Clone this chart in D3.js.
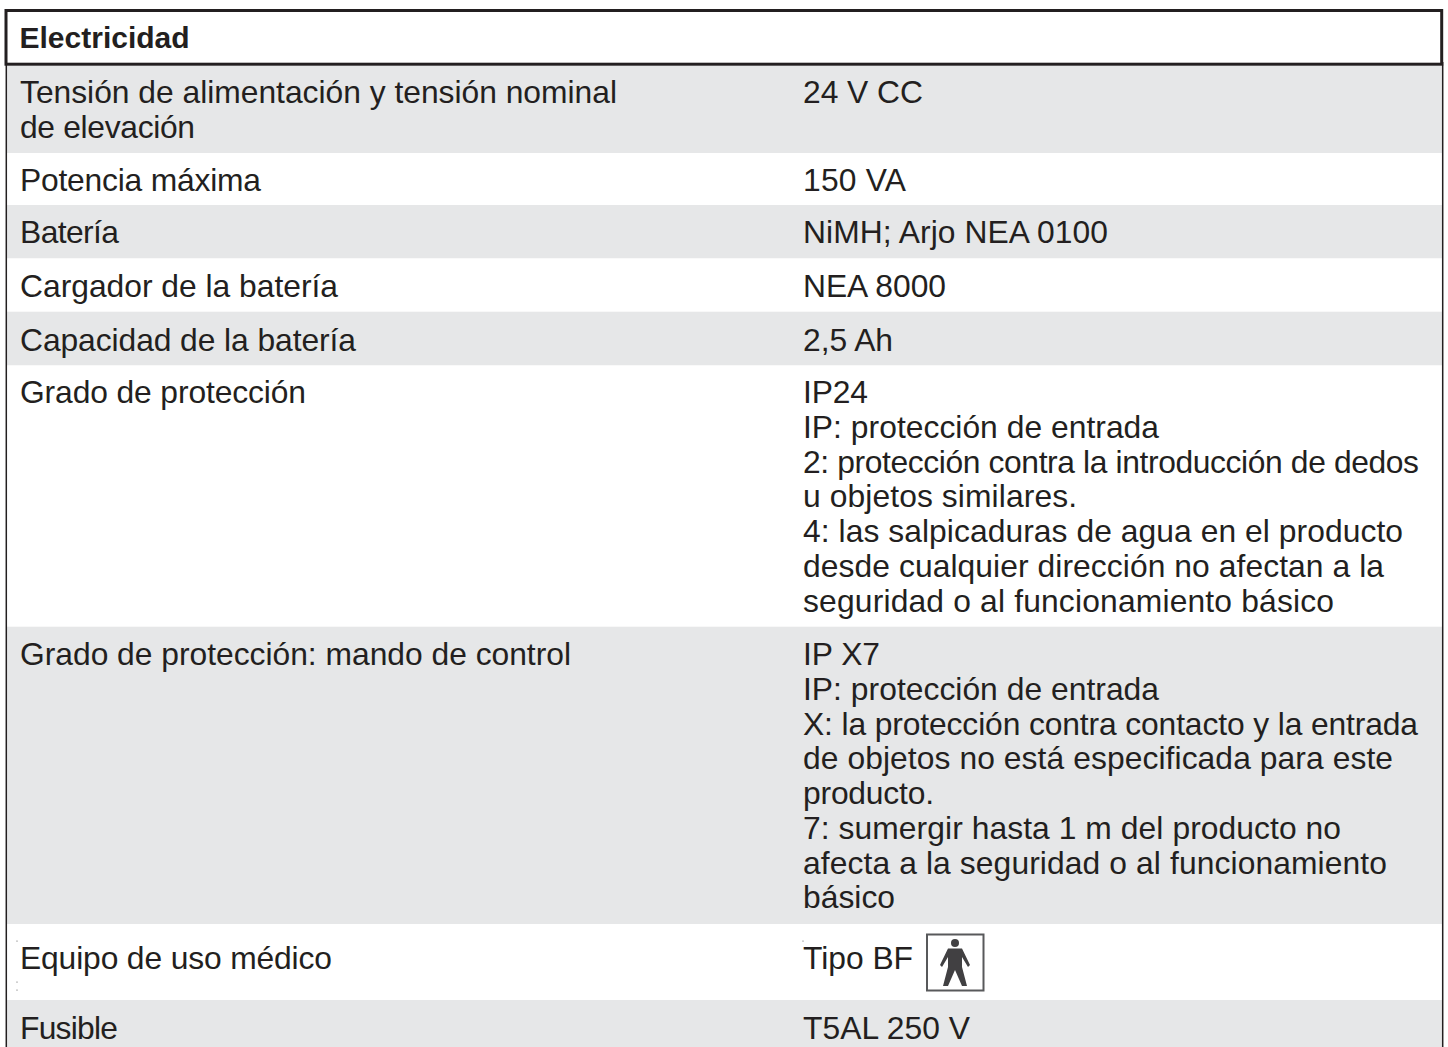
<!DOCTYPE html>
<html lang="es">
<head>
<meta charset="UTF-8">
<title>Electricidad</title>
<script src="https://cdn.jsdelivr.net/npm/d3@7"></script>
<style>
    html, body { margin: 0; padding: 0; background: #fff; overflow: hidden; }
    text { font-family: "Liberation Sans", Arial, sans-serif; fill: #231f20; }
</style>
</head>
<body>
<script>
    const title = "Electricidad";
    // one entry per table row, each cell is a list of text lines
    const labels = [
        ["Tensión de alimentación y tensión nominal", "de elevación"],
        ["Potencia máxima"],
        ["Batería"],
        ["Cargador de la batería"],
        ["Capacidad de la batería"],
        ["Grado de protección"],
        ["Grado de protección: mando de control"],
        ["Equipo de uso médico"],
        ["Fusible"]
    ];
    const values = [
        ["24 V CC"],
        ["150 VA"],
        ["NiMH; Arjo NEA 0100"],
        ["NEA 8000"],
        ["2,5 Ah"],
        ["IP24", "IP: protección de entrada", "2: protección contra la introducción de dedos", "u objetos similares.", "4: las salpicaduras de agua en el producto", "desde cualquier dirección no afectan a la", "seguridad o al funcionamiento básico"],
        ["IP X7", "IP: protección de entrada", "X: la protección contra contacto y la entrada", "de objetos no está especificada para este", "producto.", "7: sumergir hasta 1 m del producto no", "afecta a la seguridad o al funcionamiento", "básico"],
        ["Tipo BF"],
        ["T5AL 250 V"]
    ];

    // layout
    const rowEdges = [65.5, 153, 205, 258.5, 311.7, 365.5, 626.7, 924, 1000, 1047];
    const baselines = [103, 191, 243, 297, 351, 403, 665, 969, 1038.5];
    const labelEnds = [[617, 195], [261], [119], [338], [356], [306], [571], [332], [118]];
    const valueEnds = [[923], [906], [1108], [946], [893],
        [868, 1159, 1419, 1077, 1403, 1384, 1334],
        [880, 1159, 1418, 1393, 934, 1341, 1387, 895],
        [913], [970]];
    const strayDots = [[17, 941], [17, 982], [17, 990], [803, 941]];

    const width = 1448, height = 1047;
    const lineHeight = 34.75, fontSize = 31.8;
    const labelX = 20, valueX = 803;

    const svg = d3.select("body").append("svg")
        .attr("width", width)
        .attr("height", height)
        .attr("viewBox", [0, 0, width, height])
        .style("display", "block");

    const rows = svg.append("g").selectAll("g")
        .data(labels.map((d, i) => ({ i, y0: rowEdges[i], y1: rowEdges[i + 1], base: baselines[i] })))
        .join("g");

    rows.append("rect")
        .attr("x", 6).attr("width", 1437)
        .attr("y", d => d.y0)
        .attr("height", d => d.y1 - d.y0)
        .attr("fill", d => d.i % 2 === 0 ? "#e6e7e8" : "#fff");

    function addLines(texts, ends, x) {
        rows.selectAll(null)
            .data(d => texts[d.i].map((t, j) => ({ t, y: d.base + j * lineHeight, end: ends[d.i][j] })))
            .join("text")
            .attr("font-size", fontSize)
            .attr("x", x)
            .attr("y", d => d.y)
            .attr("textLength", d => d.end - x)
            .attr("lengthAdjust", "spacing")
            .text(d => d.t);
    }
    addLines(labels, labelEnds, labelX);
    addLines(values, valueEnds, valueX);

    // thin side rules
    svg.selectAll("line.side").data([6.3, 1442.7]).join("line")
        .attr("class", "side")
        .attr("x1", d => d).attr("x2", d => d)
        .attr("y1", 62).attr("y2", height)
        .attr("stroke", "#231f20").attr("stroke-width", 1.5);

    // header box
    svg.append("rect")
        .attr("x", 6).attr("y", 10.5)
        .attr("width", 1435.7).attr("height", 53.7)
        .attr("fill", "#fff")
        .attr("stroke", "#231f20").attr("stroke-width", 3);
    svg.append("text")
        .attr("x", 19.5).attr("y", 48)
        .attr("font-size", 30).attr("font-weight", "bold")
        .text(title);

    // type BF symbol
    const bf = svg.append("g").attr("transform", "translate(927,934)");
    bf.append("rect")
        .attr("x", 0).attr("y", 0.5).attr("width", 56.5).attr("height", 56)
        .attr("fill", "#fff").attr("stroke", "#58595b").attr("stroke-width", 2);
    bf.append("circle").attr("cx", 28).attr("cy", 9).attr("r", 4).attr("fill", "#414042");
    bf.append("path")
        .attr("fill", "#414042")
        .attr("d", "M21,14.5 L35,14.5 L43,31 L41,33 L35,23 L35,33 L40,52 L35,52 L28,36 L21,52 L16,52 L21,33 L21,23 L15,33 L13,31 Z");

    // small specks in the scan
    svg.selectAll("circle.speck").data(strayDots).join("circle")
        .attr("class", "speck")
        .attr("cx", d => d[0]).attr("cy", d => d[1])
        .attr("r", 0.6).attr("fill", "#555");
</script>
</body>
</html>
